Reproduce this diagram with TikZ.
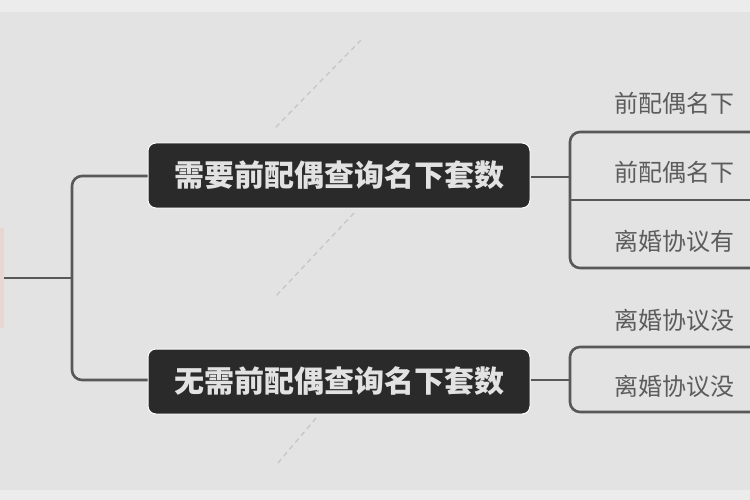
\documentclass[tikz,border=0pt]{standalone}
\usepackage{fontspec}
\newfontfamily\cjk{Noto Sans CJK SC}
\definecolor{bgc}{HTML}{E3E3E3}
\definecolor{edgec}{HTML}{ECECEC}
\definecolor{boxc}{HTML}{2A2A2A}
\definecolor{boxtxt}{HTML}{E2E2E2}
\definecolor{linec}{HTML}{585858}
\definecolor{leaftxt}{HTML}{5C5C5C}
\definecolor{wmc}{HTML}{C6C6C6}
\definecolor{rootc}{HTML}{F0C8C0}
\tikzset{
  mainbox/.style={draw=white, line width=1pt, fill=boxc, rounded corners=8pt, minimum width=382pt, minimum height=65pt, inner sep=0pt, text=boxtxt, font=\cjk\bfseries\fontsize{30}{30}\selectfont},
  leaf/.style={anchor=west, inner sep=0pt, text=leaftxt, font=\cjk\fontsize{24}{24}\selectfont},
  conn/.style={draw=linec, line width=2.6pt, rounded corners=10pt},
  wm/.style={draw=wmc, line width=1.3pt, dash pattern=on 5pt off 4pt},
  rootbox/.style={fill=rootc, opacity=0.45, minimum width=36pt, minimum height=100pt, inner sep=0pt}
}
\begin{document}
\begin{tikzpicture}[x=1pt,y=-1pt]
\useasboundingbox (0,0) rectangle (750,500);
\clip (0,0) rectangle (750,500);
\fill[bgc] (0,0) rectangle (750,500);
\fill[edgec] (0,0) rectangle (750,12);
\fill[edgec] (0,490) rectangle (750,500);
% watermark traces
\draw[wm] (361,40) -- (275,128);
\draw[wm] (354,213) -- (275,297);
\draw[wm] (316,418) -- (278,463);
% root (cut off at left edge)
\node[rootbox] (root) at (-14,278) {};
% main boxes
\node[mainbox] (b1) at (339,175.5) {需要前配偶查询名下套数};
\node[mainbox] (b2) at (339,381.5) {无需前配偶查询名下套数};
% trunk
\coordinate (j0) at (72,278);
\coordinate (j1) at (72,176);
\coordinate (j2) at (72,380);
\draw[conn] (root.east |- j0) -- (j0);
\draw[conn] (b1.west |- j1) -- (j1) -- (j2) -- (b2.west |- j2);
% leaves group 1
\node[leaf] (l1) at (614,103) {前配偶名下};
\node[leaf] (l2) at (614,172) {前配偶名下};
\node[leaf] (l3) at (614,241) {离婚协议有};
\coordinate (g1) at (570,177);
\coordinate (u1) at (570,132);
\coordinate (u3) at (570,268);
\coordinate (u1e) at (760,132);
\coordinate (u2s) at (570,200);
\coordinate (u2e) at (760,200);
\coordinate (u3e) at (760,268);
\draw[conn, rounded corners=0pt] (b1.east |- g1) -- (g1);
\draw[conn] (u1e) -- (u1) -- (u3) -- (u3e);
\draw[conn, rounded corners=0pt] (u2s) -- (u2e);
% leaves group 2
\node[leaf] (l4) at (614,320) {离婚协议没};
\node[leaf] (l5) at (614,386) {离婚协议没};
\coordinate (g2) at (570,380);
\coordinate (u4) at (570,347);
\coordinate (u5) at (570,412);
\coordinate (u4e) at (760,347);
\coordinate (u5e) at (760,412);
\draw[conn, rounded corners=0pt] (b2.east |- g2) -- (g2);
\draw[conn] (u4e) -- (u4) -- (u5) -- (u5e);
\end{tikzpicture}
\end{document}
